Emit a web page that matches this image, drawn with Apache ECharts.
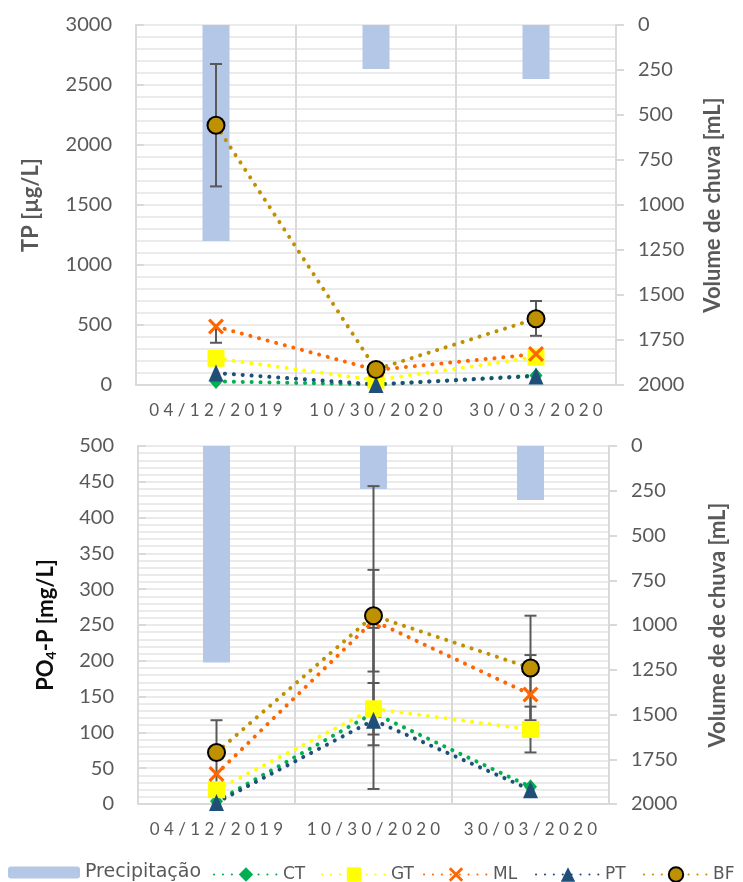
<!DOCTYPE html>
<html>
<head>
<meta charset="utf-8">
<script src="https://cdn.jsdelivr.net/npm/echarts@6/dist/echarts.min.js"></script>
<style>
html,body{margin:0;padding:0;background:#fff;}
#chart{width:743px;height:882px;}
</style>
</head>
<body>
<div id="chart"></div>
<script>
// ---- data ----
const categories = ['04/12/2019', '10/30/2020', '30/03/2020'];
const rainTP = [1200, 245, 300];
const rainPO4 = [1210, 240, 302];

// TP [µg/L]
const tpCT = [30, 5, 80];
const tpGT = [222, 40, 232];
const tpML = [487, 125, 258];
const tpPT = [100, 5, 75];
const tpBF = [2165, 130, 552];
const tpBFPlus = [510, 0, 148];
const tpBFMinus = [510, 0, 142];
const tpMLPlus = [0, 0, 0];
const tpMLMinus = [135, 0, 0];

// PO4-P [mg/L]
const poCT = [4, 127, 24];
const poGT = [20, 133, 104];
const poML = [42, 256, 153];
const poPT = [2, 117, 20];
const poBF = [72, 263, 190];
const poBFErr = [45, 181, 73];
const poMLErr = [0, 71, 55];
const poGTErr = [0, 36, 32];
const poPTPlus = [0, 129, 0];
const poPTMinus = [0, 96, 0];

const tpTicks = {min: 0, max: 3000, interval: 500};
const poTicks = {min: 0, max: 500, interval: 50};
const rainTicks = {min: 0, max: 2000, interval: 250};

// ---- styles ----
const FONT = 'Lato';
const GREY = '#595959';
const AX = '#D9D9D9';
const colors = {CT: '#00B050', GT: '#FFFF00', ML: '#FF6600', PT: '#1F4E79', BF: '#BF9000'};
const xPath = 'path://M0,1.4 L1.4,0 L10,8.6 L8.6,10 Z M8.6,0 L10,1.4 L1.4,10 L0,8.6 Z';
const symbols = {
  CT: {symbol: 'diamond', symbolSize: [13, 15]},
  GT: {symbol: 'rect', symbolSize: 17},
  ML: {symbol: xPath, symbolSize: 16},
  PT: {symbol: 'triangle', symbolSize: [15, 17]},
  BF: {symbol: 'circle', symbolSize: 17}
};

function lineSeries(name, data, xi, yi) {
  const s = symbols[name];
  return {
    name: name, type: 'line', data: data, xAxisIndex: xi, yAxisIndex: yi,
    symbol: s.symbol, symbolSize: s.symbolSize, z: 4,
    lineStyle: {color: colors[name], width: 4, type: [0.1, 8.8], cap: 'round'},
    itemStyle: name === 'BF'
      ? {color: colors[name], borderColor: '#000', borderWidth: 2}
      : {color: colors[name], borderWidth: 0},
    emphasis: {disabled: true},
    animation: false
  };
}

function errSeries(id, vals, plus, minus, xi, yi) {
  const data = [];
  vals.forEach((v, i) => { if (plus[i] > 0 || minus[i] > 0) data.push([i, v, plus[i], minus[i]]); });
  return {
    id: id, type: 'custom', xAxisIndex: xi, yAxisIndex: yi, z: 3, silent: true,
    encode: {x: 0, y: 1},
    data: data,
    renderItem: function (params, api) {
      const i = api.value(0), v = api.value(1), p = api.value(2), m = api.value(3);
      const c = api.coord([i, v]);
      const t = api.coord([i, v + p]);
      const b = api.coord([i, v - m]);
      const st = {stroke: GREY, lineWidth: 2};
      const hw = 6;
      const ch = [{type: 'line', shape: {x1: c[0], y1: t[1], x2: c[0], y2: b[1]}, style: st}];
      if (p > 0) ch.push({type: 'line', shape: {x1: c[0] - hw, y1: t[1], x2: c[0] + hw, y2: t[1]}, style: st});
      if (m > 0) ch.push({type: 'line', shape: {x1: c[0] - hw, y1: b[1], x2: c[0] + hw, y2: b[1]}, style: st});
      return {type: 'group', children: ch};
    },
    animation: false
  };
}

function barSeries(data, xi, yi) {
  return {
    name: 'Precipitação', type: 'bar', data: data, xAxisIndex: xi, yAxisIndex: yi,
    barWidth: 27, z: 1, itemStyle: {color: '#B4C7E7'}, emphasis: {disabled: true}, animation: false
  };
}

function xAxis(gi) {
  return {
    type: 'category', gridIndex: gi, data: categories, boundaryGap: true,
    axisLine: {lineStyle: {color: AX, width: 2}},
    axisTick: {show: false},
    splitLine: {show: true, interval: 0, lineStyle: {color: AX, width: 2}},
    axisLabel: {
      color: GREY, fontFamily: FONT, fontSize: 17, margin: 17, interval: 0, hideOverlap: false,
      formatter: v => v.split('').join(' ')
    }
  };
}

function leftAxis(gi, ticks, name, nameGap, nameStyle) {
  return {
    type: 'value', gridIndex: gi, position: 'left',
    min: ticks.min, max: ticks.max, interval: ticks.interval,
    name: name, nameLocation: 'middle', nameRotate: 90, nameGap: nameGap,
    nameTextStyle: nameStyle,
    axisLine: {show: true, lineStyle: {color: AX, width: 2}},
    axisTick: {show: true, inside: true, length: 8, lineStyle: {color: AX, width: 2}},
    splitLine: {show: true, lineStyle: {color: '#EBEBEB', width: 2}},
    minorTick: {show: true, splitNumber: 5, length: 0, lineStyle: {color: 'rgba(0,0,0,0)', width: 0}},
    minorSplitLine: {show: true, lineStyle: {color: '#EBEBEB', width: 2}},
    axisLabel: {color: GREY, fontFamily: FONT, fontSize: 20, margin: 24, formatter: v => String(v)}
  };
}

function rightAxis(gi, name, nameGap) {
  return {
    type: 'value', gridIndex: gi, position: 'right', inverse: true,
    min: rainTicks.min, max: rainTicks.max, interval: rainTicks.interval,
    name: name, nameLocation: 'middle', nameRotate: 90, nameGap: nameGap,
    nameTextStyle: {color: GREY, fontFamily: FONT, fontSize: 22, fontWeight: 'bold'},
    axisLine: {show: true, lineStyle: {color: AX, width: 2}},
    axisTick: {show: true, inside: false, length: 8, lineStyle: {color: AX, width: 2}},
    splitLine: {show: false},
    axisLabel: {color: GREY, fontFamily: FONT, fontSize: 20, margin: 22, formatter: v => String(v)}
  };
}

function legend(name, left, w, h, top, fs) {
  return {
    data: [name], left: left, top: top, itemWidth: w, itemHeight: h, itemGap: 8,
    selectedMode: false,
    textStyle: {color: GREY, fontFamily: 'DejaVu Sans', fontSize: fs || 17}
  };
}

const option = {
  backgroundColor: '#fff',
  animation: false,
  grid: [
    {left: 136, right: 127, top: 25, height: 360},
    {left: 138, right: 134, top: 446, height: 358}
  ],
  legend: [
    legend('Precipitação', 3, 72, 12, 858, 19),
    legend('CT', 208, 64, 18, 861),
    legend('GT', 316, 64, 18, 861),
    legend('ML', 418, 64, 18, 861),
    legend('PT', 530, 64, 18, 861),
    legend('BF', 638, 64, 18, 861)
  ],
  xAxis: [xAxis(0), xAxis(1)],
  yAxis: [
    leftAxis(0, tpTicks, 'TP [µg/L]', 94, {color: GREY, fontFamily: FONT, fontSize: 22, fontWeight: 'bold'}),
    rightAxis(0, 'Volume de chuva [mL]', 86),
    leftAxis(1, poTicks, '{n|PO}{s|4}{n|-P [mg/L]}', 80, {
      rich: {
        n: {color: '#0D0D0D', fontFamily: FONT, fontSize: 22, fontWeight: 'bold'},
        s: {color: '#0D0D0D', fontFamily: FONT, fontSize: 14, fontWeight: 'bold', padding: [10, 0, 0, 0]}
      }
    }),
    rightAxis(1, 'Volume de de chuva [mL]', 98)
  ],
  series: [
    barSeries(rainTP, 0, 1),
    barSeries(rainPO4, 1, 3),
    errSeries('eTPML', tpML, tpMLPlus, tpMLMinus, 0, 0),
    errSeries('eTPBF', tpBF, tpBFPlus, tpBFMinus, 0, 0),
    errSeries('ePOGT', poGT, poGTErr, poGTErr, 1, 2),
    errSeries('ePOML', poML, poMLErr, poMLErr, 1, 2),
    errSeries('ePOPT', poPT, poPTPlus, poPTMinus, 1, 2),
    errSeries('ePOBF', poBF, poBFErr, poBFErr, 1, 2),
    lineSeries('CT', tpCT, 0, 0),
    lineSeries('GT', tpGT, 0, 0),
    lineSeries('ML', tpML, 0, 0),
    lineSeries('PT', tpPT, 0, 0),
    lineSeries('BF', tpBF, 0, 0),
    lineSeries('CT', poCT, 1, 2),
    lineSeries('GT', poGT, 1, 2),
    lineSeries('ML', poML, 1, 2),
    lineSeries('PT', poPT, 1, 2),
    lineSeries('BF', poBF, 1, 2)
  ]
};

const chart = echarts.init(document.getElementById('chart'), null, {renderer: 'canvas'});
chart.setOption(option);
</script>
</body>
</html>
